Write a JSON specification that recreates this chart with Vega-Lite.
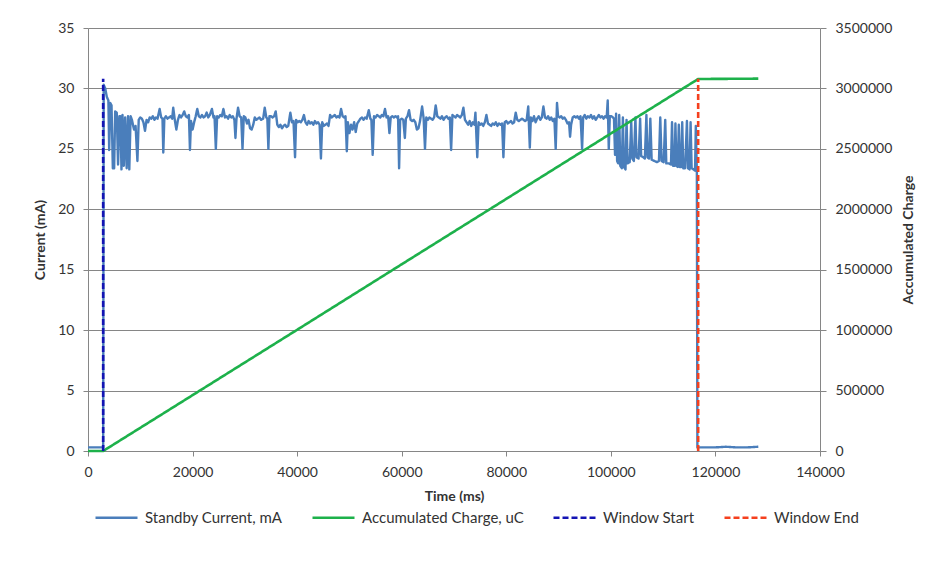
{
  "$schema": "https://vega.github.io/schema/vega-lite/v6.json",
  "width": 732,
  "height": 423,
  "autosize": {"type": "none"},
  "padding": {"left": 88, "top": 28, "right": 111, "bottom": 114},
  "background": "white",
  "config": {
    "view": {"stroke": null},
    "font": "Lato",
    "axis": {
      "labelFont": "Lato",
      "labelFontSize": 14,
      "labelColor": "#333333",
      "labelFlush": false,
      "labelOverlap": false,
      "titleFont": "Lato",
      "titleFontSize": 14,
      "titleFontWeight": "bold",
      "titleColor": "#333333",
      "domainColor": "#868686",
      "tickColor": "#868686",
      "gridColor": "#868686",
      "gridOpacity": 1,
      "tickSize": 5
    },
    "legend": {
      "labelFont": "Lato",
      "labelFontSize": 15,
      "labelColor": "#333333",
      "labelLimit": 400
    }
  },
  "datasets": {
    "current": [
      {"t": 0, "v": 0.3}, {"t": 1000, "v": 0.3}, {"t": 2000, "v": 0.3}, {"t": 2900, "v": 0.3},
      {"t": 3000, "v": 30.3}, {"t": 3300, "v": 30.0}, {"t": 3600, "v": 29.3}, {"t": 3900, "v": 29.0},
      {"t": 4050, "v": 24.9}, {"t": 4250, "v": 28.8}, {"t": 4500, "v": 28.6}, {"t": 4750, "v": 23.4},
      {"t": 5000, "v": 23.4}, {"t": 5200, "v": 28.1}, {"t": 5500, "v": 28.0}, {"t": 5750, "v": 23.7},
      {"t": 6000, "v": 27.7}, {"t": 6200, "v": 27.7}, {"t": 6400, "v": 23.3}, {"t": 6600, "v": 27.8},
      {"t": 6850, "v": 23.6}, {"t": 7100, "v": 27.6}, {"t": 7400, "v": 23.4}, {"t": 7650, "v": 27.7},
      {"t": 7900, "v": 23.3}, {"t": 8150, "v": 27.7}, {"t": 8400, "v": 27.4}, {"t": 8800, "v": 26.6},
      {"t": 9100, "v": 26.9}, {"t": 9450, "v": 24.0}, {"t": 9700, "v": 27.4}, {"t": 10000, "v": 27.6},
      {"t": 10300, "v": 27.5}, {"t": 10600, "v": 27.2}, {"t": 10900, "v": 26.5}, {"t": 11200, "v": 27.4},
      {"t": 11500, "v": 27.2}, {"t": 11800, "v": 27.6}, {"t": 12100, "v": 27.5}, {"t": 12400, "v": 27.7},
      {"t": 12700, "v": 27.4}, {"t": 13000, "v": 27.6}, {"t": 13300, "v": 27.5}, {"t": 13700, "v": 28.3},
      {"t": 14000, "v": 27.6}, {"t": 14250, "v": 27.5}, {"t": 14400, "v": 24.7}, {"t": 14600, "v": 27.5},
      {"t": 14900, "v": 27.7}, {"t": 15200, "v": 27.5}, {"t": 15500, "v": 27.6}, {"t": 15800, "v": 27.7},
      {"t": 16100, "v": 27.5}, {"t": 16300, "v": 28.4}, {"t": 16600, "v": 27.4}, {"t": 16900, "v": 26.6},
      {"t": 17200, "v": 27.4}, {"t": 17500, "v": 27.8}, {"t": 17800, "v": 27.6}, {"t": 18100, "v": 27.8},
      {"t": 18400, "v": 28.1}, {"t": 18700, "v": 27.7}, {"t": 19000, "v": 27.6}, {"t": 19300, "v": 27.8},
      {"t": 19500, "v": 24.9}, {"t": 19700, "v": 27.3}, {"t": 20000, "v": 26.6}, {"t": 20300, "v": 27.2},
      {"t": 20600, "v": 27.7}, {"t": 20900, "v": 28.3}, {"t": 21200, "v": 27.7}, {"t": 21500, "v": 27.6},
      {"t": 21800, "v": 27.8}, {"t": 22100, "v": 27.6}, {"t": 22400, "v": 27.7}, {"t": 22700, "v": 28.0},
      {"t": 23000, "v": 27.6}, {"t": 23300, "v": 27.8}, {"t": 23700, "v": 28.3}, {"t": 24000, "v": 27.6},
      {"t": 24200, "v": 27.7}, {"t": 24450, "v": 25.0}, {"t": 24700, "v": 27.7}, {"t": 25000, "v": 27.6},
      {"t": 25300, "v": 27.8}, {"t": 25600, "v": 27.7}, {"t": 25900, "v": 28.3}, {"t": 26200, "v": 27.6},
      {"t": 26500, "v": 27.7}, {"t": 26800, "v": 27.5}, {"t": 27100, "v": 27.8}, {"t": 27400, "v": 27.6},
      {"t": 27700, "v": 27.7}, {"t": 28000, "v": 27.4}, {"t": 28200, "v": 25.9}, {"t": 28400, "v": 27.5},
      {"t": 28700, "v": 28.4}, {"t": 29000, "v": 27.7}, {"t": 29300, "v": 27.6}, {"t": 29550, "v": 25.0},
      {"t": 29800, "v": 27.7}, {"t": 30100, "v": 27.6}, {"t": 30400, "v": 27.1}, {"t": 30700, "v": 27.4},
      {"t": 31000, "v": 26.7}, {"t": 31300, "v": 26.6}, {"t": 31600, "v": 27.0}, {"t": 31900, "v": 27.6},
      {"t": 32200, "v": 27.4}, {"t": 32500, "v": 27.5}, {"t": 32800, "v": 27.6}, {"t": 33100, "v": 27.4},
      {"t": 33500, "v": 27.5}, {"t": 33800, "v": 28.4}, {"t": 34100, "v": 27.6}, {"t": 34300, "v": 27.5},
      {"t": 34500, "v": 25.0}, {"t": 34700, "v": 27.7}, {"t": 35000, "v": 27.7}, {"t": 35300, "v": 27.6},
      {"t": 35600, "v": 27.7}, {"t": 35900, "v": 28.1}, {"t": 36200, "v": 27.0}, {"t": 36500, "v": 26.8},
      {"t": 36800, "v": 27.0}, {"t": 37100, "v": 26.7}, {"t": 37400, "v": 26.9}, {"t": 37700, "v": 27.0},
      {"t": 38000, "v": 26.8}, {"t": 38300, "v": 26.9}, {"t": 38700, "v": 28.0}, {"t": 39000, "v": 27.2},
      {"t": 39300, "v": 27.3}, {"t": 39600, "v": 24.3}, {"t": 39800, "v": 27.4}, {"t": 40100, "v": 27.2},
      {"t": 40400, "v": 27.3}, {"t": 40700, "v": 27.2}, {"t": 41000, "v": 27.4}, {"t": 41300, "v": 27.8},
      {"t": 41600, "v": 27.2}, {"t": 41900, "v": 27.0}, {"t": 42200, "v": 27.3}, {"t": 42500, "v": 27.1},
      {"t": 42800, "v": 27.2}, {"t": 43100, "v": 27.0}, {"t": 43400, "v": 27.3}, {"t": 43700, "v": 27.1},
      {"t": 44000, "v": 27.2}, {"t": 44300, "v": 27.0}, {"t": 44550, "v": 24.2}, {"t": 44800, "v": 27.2},
      {"t": 45100, "v": 26.9}, {"t": 45400, "v": 27.0}, {"t": 45700, "v": 27.1}, {"t": 46000, "v": 26.9},
      {"t": 46300, "v": 27.8}, {"t": 46600, "v": 27.6}, {"t": 46900, "v": 27.7}, {"t": 47200, "v": 27.8},
      {"t": 47500, "v": 27.6}, {"t": 47800, "v": 27.7}, {"t": 48100, "v": 27.6}, {"t": 48400, "v": 28.3},
      {"t": 48700, "v": 27.7}, {"t": 49000, "v": 27.6}, {"t": 49250, "v": 27.7}, {"t": 49500, "v": 24.8},
      {"t": 49700, "v": 27.2}, {"t": 50000, "v": 26.3}, {"t": 50300, "v": 27.0}, {"t": 50600, "v": 26.6},
      {"t": 50900, "v": 27.2}, {"t": 51200, "v": 26.4}, {"t": 51500, "v": 27.1}, {"t": 51800, "v": 27.3},
      {"t": 52100, "v": 27.5}, {"t": 52400, "v": 27.6}, {"t": 52700, "v": 27.4}, {"t": 53000, "v": 27.6},
      {"t": 53300, "v": 27.5}, {"t": 53700, "v": 28.2}, {"t": 54000, "v": 27.5}, {"t": 54200, "v": 27.4},
      {"t": 54450, "v": 24.5}, {"t": 54700, "v": 27.7}, {"t": 55000, "v": 27.6}, {"t": 55300, "v": 27.8},
      {"t": 55600, "v": 27.7}, {"t": 55900, "v": 27.6}, {"t": 56200, "v": 27.8}, {"t": 56500, "v": 27.7},
      {"t": 56800, "v": 28.3}, {"t": 57100, "v": 27.6}, {"t": 57400, "v": 27.7}, {"t": 57650, "v": 26.3},
      {"t": 57900, "v": 27.6}, {"t": 58200, "v": 27.7}, {"t": 58500, "v": 27.6}, {"t": 58800, "v": 27.7},
      {"t": 59100, "v": 27.6}, {"t": 59300, "v": 27.7}, {"t": 59500, "v": 23.4}, {"t": 59700, "v": 27.4},
      {"t": 60000, "v": 27.5}, {"t": 60300, "v": 27.4}, {"t": 60600, "v": 25.9}, {"t": 60800, "v": 27.5},
      {"t": 61100, "v": 27.7}, {"t": 61400, "v": 28.2}, {"t": 61700, "v": 27.4}, {"t": 62000, "v": 27.3},
      {"t": 62300, "v": 27.4}, {"t": 62600, "v": 27.2}, {"t": 62900, "v": 26.6}, {"t": 63200, "v": 26.7},
      {"t": 63500, "v": 27.3}, {"t": 63900, "v": 28.5}, {"t": 64200, "v": 27.5}, {"t": 64450, "v": 25.0},
      {"t": 64700, "v": 27.6}, {"t": 65000, "v": 27.4}, {"t": 65300, "v": 27.6}, {"t": 65600, "v": 27.5},
      {"t": 65900, "v": 27.4}, {"t": 66200, "v": 27.6}, {"t": 66500, "v": 28.6}, {"t": 66800, "v": 27.7},
      {"t": 67100, "v": 27.6}, {"t": 67400, "v": 27.5}, {"t": 67700, "v": 27.7}, {"t": 68000, "v": 27.4},
      {"t": 68300, "v": 27.6}, {"t": 68600, "v": 27.7}, {"t": 68900, "v": 27.5}, {"t": 69200, "v": 27.6},
      {"t": 69450, "v": 24.9}, {"t": 69700, "v": 27.8}, {"t": 70000, "v": 27.7}, {"t": 70300, "v": 27.6},
      {"t": 70600, "v": 27.8}, {"t": 70900, "v": 27.7}, {"t": 71200, "v": 27.6}, {"t": 71500, "v": 27.8},
      {"t": 71800, "v": 28.4}, {"t": 72100, "v": 27.4}, {"t": 72400, "v": 27.2}, {"t": 72700, "v": 27.0},
      {"t": 73000, "v": 27.3}, {"t": 73300, "v": 26.9}, {"t": 73600, "v": 27.2}, {"t": 73900, "v": 27.0},
      {"t": 74100, "v": 28.0}, {"t": 74450, "v": 24.3}, {"t": 74700, "v": 27.2}, {"t": 75000, "v": 27.0},
      {"t": 75300, "v": 27.1}, {"t": 75600, "v": 26.9}, {"t": 75900, "v": 27.2}, {"t": 76200, "v": 27.8},
      {"t": 76500, "v": 27.1}, {"t": 76800, "v": 27.0}, {"t": 77100, "v": 26.9}, {"t": 77400, "v": 27.1},
      {"t": 77700, "v": 27.0}, {"t": 78000, "v": 27.2}, {"t": 78300, "v": 26.9}, {"t": 78600, "v": 27.1},
      {"t": 78900, "v": 27.0}, {"t": 79200, "v": 27.1}, {"t": 79450, "v": 24.3}, {"t": 79700, "v": 27.2},
      {"t": 80000, "v": 27.3}, {"t": 80300, "v": 27.1}, {"t": 80600, "v": 27.2}, {"t": 80900, "v": 27.3},
      {"t": 81200, "v": 27.1}, {"t": 81500, "v": 27.2}, {"t": 81800, "v": 28.0}, {"t": 82100, "v": 27.4},
      {"t": 82400, "v": 27.3}, {"t": 82700, "v": 27.4}, {"t": 83000, "v": 27.5}, {"t": 83300, "v": 27.4},
      {"t": 83600, "v": 27.3}, {"t": 83900, "v": 27.4}, {"t": 84200, "v": 28.5}, {"t": 84500, "v": 25.1},
      {"t": 84700, "v": 27.6}, {"t": 85000, "v": 27.3}, {"t": 85300, "v": 27.7}, {"t": 85600, "v": 27.2},
      {"t": 85900, "v": 27.5}, {"t": 86200, "v": 27.7}, {"t": 86500, "v": 27.4}, {"t": 86800, "v": 27.6},
      {"t": 87100, "v": 28.5}, {"t": 87400, "v": 27.6}, {"t": 87700, "v": 27.5}, {"t": 88000, "v": 27.7},
      {"t": 88300, "v": 27.4}, {"t": 88600, "v": 27.6}, {"t": 88900, "v": 27.3}, {"t": 89200, "v": 27.5},
      {"t": 89450, "v": 25.0}, {"t": 89700, "v": 28.8}, {"t": 89900, "v": 27.7}, {"t": 90200, "v": 27.6},
      {"t": 90500, "v": 27.7}, {"t": 90800, "v": 27.5}, {"t": 91100, "v": 27.6}, {"t": 91400, "v": 27.4},
      {"t": 91700, "v": 27.1}, {"t": 92000, "v": 27.2}, {"t": 92200, "v": 26.0}, {"t": 92400, "v": 27.0},
      {"t": 92700, "v": 27.6}, {"t": 93000, "v": 27.7}, {"t": 93300, "v": 27.6}, {"t": 93600, "v": 27.7},
      {"t": 93900, "v": 27.5}, {"t": 94200, "v": 27.7}, {"t": 94500, "v": 25.0}, {"t": 94700, "v": 27.6},
      {"t": 95000, "v": 27.8}, {"t": 95300, "v": 27.5}, {"t": 95600, "v": 27.7}, {"t": 95900, "v": 27.6},
      {"t": 96200, "v": 27.8}, {"t": 96500, "v": 27.5}, {"t": 96800, "v": 27.7}, {"t": 97100, "v": 27.4},
      {"t": 97400, "v": 27.6}, {"t": 97700, "v": 27.8}, {"t": 98000, "v": 27.6}, {"t": 98300, "v": 27.7},
      {"t": 98600, "v": 27.5}, {"t": 98900, "v": 27.7}, {"t": 99200, "v": 27.6}, {"t": 99400, "v": 29.0},
      {"t": 99600, "v": 25.0}, {"t": 99800, "v": 27.7}, {"t": 100100, "v": 27.7}, {"t": 100400, "v": 27.6},
      {"t": 100600, "v": 27.5}, {"t": 100800, "v": 24.5}, {"t": 101000, "v": 27.9}, {"t": 101200, "v": 24.0},
      {"t": 101400, "v": 23.8}, {"t": 101600, "v": 27.8}, {"t": 101800, "v": 23.6}, {"t": 102100, "v": 23.4},
      {"t": 102300, "v": 27.6}, {"t": 102500, "v": 23.5}, {"t": 102800, "v": 23.3}, {"t": 103000, "v": 27.4},
      {"t": 103200, "v": 23.8}, {"t": 103600, "v": 23.9}, {"t": 103900, "v": 27.2}, {"t": 104100, "v": 24.2},
      {"t": 104400, "v": 24.0}, {"t": 104700, "v": 27.6}, {"t": 104900, "v": 24.3}, {"t": 105300, "v": 24.2},
      {"t": 105600, "v": 27.5}, {"t": 105800, "v": 24.4}, {"t": 106200, "v": 24.3}, {"t": 106500, "v": 24.2},
      {"t": 106800, "v": 27.8}, {"t": 107000, "v": 24.3}, {"t": 107300, "v": 24.2}, {"t": 107550, "v": 27.5},
      {"t": 107800, "v": 24.1}, {"t": 108300, "v": 24.0}, {"t": 108800, "v": 23.9}, {"t": 109200, "v": 24.0},
      {"t": 109450, "v": 27.6}, {"t": 109700, "v": 24.0}, {"t": 110100, "v": 23.9}, {"t": 110400, "v": 27.4},
      {"t": 110600, "v": 23.8}, {"t": 111100, "v": 23.8}, {"t": 111500, "v": 23.7}, {"t": 111700, "v": 27.2},
      {"t": 111900, "v": 23.6}, {"t": 112200, "v": 23.6}, {"t": 112350, "v": 27.1}, {"t": 112550, "v": 23.6},
      {"t": 112800, "v": 23.5}, {"t": 113000, "v": 27.0}, {"t": 113200, "v": 23.5}, {"t": 113450, "v": 23.5},
      {"t": 113650, "v": 27.2}, {"t": 113850, "v": 23.4}, {"t": 114200, "v": 23.4}, {"t": 114550, "v": 27.3},
      {"t": 114750, "v": 23.4}, {"t": 115050, "v": 23.3}, {"t": 115250, "v": 27.2}, {"t": 115450, "v": 23.4},
      {"t": 115800, "v": 23.3}, {"t": 116100, "v": 23.2}, {"t": 116250, "v": 26.9}, {"t": 116450, "v": 23.0},
      {"t": 116550, "v": 0.3}, {"t": 118000, "v": 0.3}, {"t": 120000, "v": 0.3}, {"t": 122000, "v": 0.35},
      {"t": 124000, "v": 0.3}, {"t": 126000, "v": 0.3}, {"t": 128200, "v": 0.35}
    ],
    "charge": [
      {"t": 0, "q": 0}, {"t": 2900, "q": 0}, {"t": 20000, "q": 462000}, {"t": 40000, "q": 1003000},
      {"t": 60000, "q": 1545000}, {"t": 80000, "q": 2086000}, {"t": 100000, "q": 2627000},
      {"t": 116700, "q": 3078000}, {"t": 128200, "q": 3081000}
    ],
    "windows": [
      {"series": "Window Start", "t": 2900, "v": 0}, {"series": "Window Start", "t": 2900, "v": 30.8},
      {"series": "Window End", "t": 116700, "v": 0}, {"series": "Window End", "t": 116700, "v": 30.8}
    ]
  },
  "encoding": {
    "x": {
      "field": "t",
      "type": "quantitative",
      "scale": {"domain": [0, 140000], "nice": false, "zero": true},
      "axis": {
        "values": [0, 20000, 40000, 60000, 80000, 100000, 120000, 140000],
        "format": "d",
        "grid": false,
        "title": "Time (ms)",
        "labelPadding": 9,
        "titlePadding": 10
      }
    }
  },
  "layer": [
    {
      "data": {"name": "current"},
      "mark": {"type": "line", "strokeWidth": 2.4, "strokeJoin": "round", "interpolate": "linear"},
      "encoding": {
        "y": {
          "field": "v",
          "type": "quantitative",
          "scale": {"domain": [0, 35], "nice": false},
          "axis": {
            "orient": "left",
            "values": [0, 5, 10, 15, 20, 25, 30, 35],
            "grid": true,
            "title": "Current (mA)",
            "labelPadding": 9,
            "titlePadding": 10
          }
        },
        "color": {
          "datum": "Standby Current, mA",
          "scale": {
            "domain": ["Standby Current, mA", "Accumulated Charge, uC", "Window Start", "Window End"],
            "range": ["#4a7ebb", "#1db14b", "#1414b4", "#f5401e"]
          },
          "legend": {
            "orient": "none",
            "legendX": 6,
            "legendY": 467,
            "direction": "horizontal",
            "title": null,
            "symbolType": "stroke",
            "symbolSize": 1764,
            "symbolStrokeWidth": 2.5,
            "labelOffset": 6,
            "columnPadding": 24
          }
        },
        "strokeDash": {
          "datum": "Standby Current, mA",
          "scale": {
            "domain": ["Standby Current, mA", "Accumulated Charge, uC", "Window Start", "Window End"],
            "range": [[1, 0], [1, 0], [6, 3], [6, 3]]
          },
          "legend": {
            "orient": "none",
            "legendX": 6,
            "legendY": 467,
            "direction": "horizontal",
            "title": null,
            "symbolType": "stroke",
            "symbolSize": 1764,
            "symbolStrokeWidth": 2.5,
            "labelOffset": 6,
            "columnPadding": 24
          }
        }
      }
    },
    {
      "data": {"name": "charge"},
      "mark": {"type": "line", "strokeWidth": 2.6},
      "encoding": {
        "y": {
          "field": "q",
          "type": "quantitative",
          "scale": {"domain": [0, 3500000], "nice": false},
          "axis": {
            "orient": "right",
            "values": [0, 500000, 1000000, 1500000, 2000000, 2500000, 3000000, 3500000],
            "format": "d",
            "grid": false,
            "title": "Accumulated Charge",
            "titleAngle": 270,
            "titleBaseline": "top",
            "tickSize": 6,
            "labelPadding": 9,
            "titlePadding": 10
          }
        },
        "color": {"datum": "Accumulated Charge, uC", "legend": {"title": null}},
        "strokeDash": {"datum": "Accumulated Charge, uC", "legend": {"title": null}}
      }
    },
    {
      "data": {"name": "windows"},
      "mark": {"type": "line", "strokeWidth": 2.6},
      "encoding": {
        "y": {"field": "v", "type": "quantitative", "scale": {"domain": [0, 35], "nice": false}, "axis": null},
        "detail": {"field": "series"},
        "color": {"field": "series", "type": "nominal", "legend": {"title": null}},
        "strokeDash": {"field": "series", "type": "nominal", "legend": {"title": null}}
      }
    }
  ],
  "resolve": {"scale": {"y": "independent", "color": "shared", "strokeDash": "shared"}, "axis": {"y": "independent"}}
}
